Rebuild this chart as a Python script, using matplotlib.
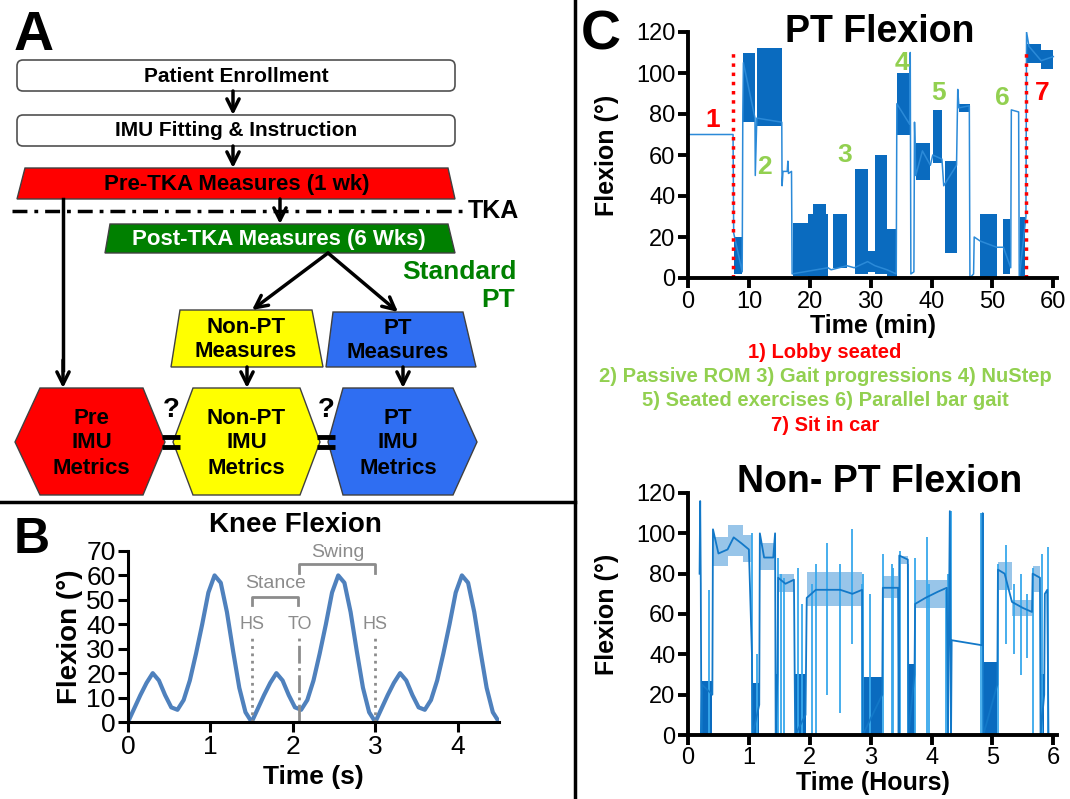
import numpy as np
import matplotlib
matplotlib.use("Agg")
import matplotlib.pyplot as plt
from matplotlib.patches import Polygon, FancyBboxPatch

plt.rcParams['font.family'] = ['Liberation Sans', 'DejaVu Sans']

# ---- Panel B: knee flexion over three gait cycles (deg), sampled every 0.075 s
knee_time = np.arange(0, 4.5001, 0.075)
knee_flex = [0, 5.5, 11, 16, 20, 17, 11, 6, 5, 9, 17, 28, 40, 53, 60, 57, 45, 29, 14, 4,
             0, 5.5, 11, 16, 20, 17, 11, 6, 5, 9, 17, 28, 40, 53, 60, 57, 45, 29, 14, 4,
             0, 5.5, 11, 16, 20, 17, 11, 6, 5, 9, 17, 28, 40, 53, 60, 57, 45, 29, 14, 4, 0]
event_t = [1.5, 2.08, 3.0]
event_lbl = ['HS', 'TO', 'HS']
event_style = [':', '-.', ':']

# ---- Panel C top: PT session flexion (minutes, deg)
pt_trace_t = [0, 7.4, 7.5, 8.9, 9.0, 9.1, 11.0, 11.05, 11.3, 15.4, 15.45, 15.6, 16.3, 16.4, 16.5,
              17.0, 17.1, 23.0, 23.5, 26.1, 27.3, 29.5, 30.7, 32.7, 34.2, 34.3, 36.4, 36.5,
              36.6, 37.1, 37.2, 37.4, 38.5, 39.8, 40.2, 41.7, 42.0, 44.1, 44.3, 44.5, 46.2,
              46.3, 46.9, 47.0, 48.0, 50.7, 51.8, 53.0, 53.1, 54.3, 54.4, 55.5, 55.6, 56.0,
              58.0, 60.0]
pt_trace_y = [70, 70, 22, 3, 80, 105, 78, 50, 78, 76, 45, 52, 52, 57, 51,
              52, 2, 5, 4, 6, 5, 8, 6, 4, 2, 85, 75, 110,
              2, 3, 76, 50, 62, 55, 60, 58, 45, 55, 92, 83, 84,
              0, 2, 20, 18, 15, 15, 5, 82, 81, 0, 30, 120, 113,
              106, 108]
pt_band_start = [7.6, 9.1, 11.3, 17.2, 19.7, 20.6, 23.8, 27.4, 29.5, 30.7, 32.7, 34.3, 37.4,
                 40.2, 42.2, 44.5, 48.0, 51.7, 54.5, 55.7, 58.0]
pt_band_end = [8.9, 11.0, 15.4, 19.7, 23.0, 22.6, 26.1, 29.5, 30.7, 32.7, 34.3, 36.4, 39.7,
               41.7, 44.1, 46.3, 50.7, 52.9, 55.4, 58.0, 60.0]
pt_band_low = [2, 76, 74, 1, 0, 5, 5, 2, 3, 2, 0, 70, 48, 56, 12, 81, 0, 2, 1, 105, 102]
pt_band_high = [20, 110, 112, 27, 31, 36, 31, 53, 13, 60, 24, 100, 66, 82, 57, 85, 31, 29,
                30, 114, 111]
pt_marks = ['1', '2', '3', '4', '5', '6', '7']
pt_mark_t = [4.1, 12.6, 25.8, 35.1, 41.1, 51.7, 58.1]
pt_mark_y = [77, 54, 60, 105, 90, 88, 90]
pt_mark_color = ['red', 'green', 'green', 'green', 'green', 'green', 'red']
pt_car_lines = [7.4, 55.5]

activity_lines = ['1) Lobby seated',
                  '2) Passive ROM 3) Gait progressions 4) NuStep',
                  '5) Seated exercises 6) Parallel bar gait',
                  '7) Sit in car']
activity_colors = ['red', 'green', 'green', 'red']

# ---- Panel C bottom: non-PT flexion (hours, deg)
npt_trace_t = [0.19, 0.20, 0.21, 0.22, 0.23, 0.40, 0.41, 0.50, 0.65, 0.75, 0.88, 1.00, 1.05,
               1.06, 1.17, 1.18, 1.25, 1.40, 1.43, 1.44, 1.47, 1.48, 1.60, 1.74, 1.76, 1.93,
               1.95, 2.10, 2.30, 2.50, 2.70, 2.86, 2.87, 3.19, 3.20, 3.30, 3.45, 3.46, 3.47,
               3.61, 3.62, 3.72, 3.73, 3.90, 4.10, 4.25, 4.27, 4.30, 4.32, 4.33, 4.83, 4.84,
               4.85, 5.08, 5.09, 5.20, 5.32, 5.50, 5.65, 5.66, 5.78, 5.79, 5.85, 5.86, 5.90,
               5.92]
npt_trace_y = [80, 116, 75, 0, 25, 20, 102, 90, 92, 98, 95, 92, 40,
               0, 15, 100, 88, 88, 100, 0, 30, 78, 75, 77, 0, 10,
               68, 72, 72, 72, 70, 72, 0, 20, 73, 73, 73, 0, 89,
               87, 0, 30, 65, 68, 71, 73, 0, 111, 0, 47, 44.5, 110,
               0, 25, 82, 80, 66, 63, 61, 80, 78, 0, 20, 70, 72,
               0]
npt_sit_start = [0.41, 0.65, 0.90, 1.18, 1.48, 1.95, 3.20, 3.48, 3.73, 5.09, 5.32, 5.66]
npt_sit_end = [0.65, 0.90, 1.05, 1.43, 1.74, 2.86, 3.45, 3.61, 4.27, 5.32, 5.65, 5.78]
npt_sit_low = [84, 89, 86, 82, 71, 64, 68, 85, 63, 72, 59, 71]
npt_sit_high = [98, 104, 99, 95, 80, 81, 79, 89, 77, 86, 67, 84]
npt_move_start = [0.23, 1.06, 1.44, 1.76, 2.87, 3.62, 4.85, 5.79]
npt_move_end = [0.40, 1.17, 1.47, 1.93, 3.19, 3.72, 5.08, 5.85]
npt_move_high = [27, 26, 30, 30, 29, 35, 36, 30]
npt_spike_t = [0.34, 1.05, 1.13, 1.48, 1.53, 1.58, 1.80, 1.88, 2.04, 2.11, 2.28, 2.50, 2.69,
               2.86, 2.88, 2.99, 3.20, 3.35, 3.37, 3.48, 3.61, 3.73, 3.92, 3.95, 4.23, 4.27,
               4.32, 4.81, 4.85, 5.09, 5.23, 5.36, 5.47, 5.56, 5.67, 5.81, 5.91]
npt_spike_lo = [0, 0, 0, 0, 0, 0, 0, 0, 0, 0, 20, 11, 45,
                0, 0, 0, 0, 0, 0, 0, 0, 0, 0, 0, 0, 0,
                0, 0, 0, 0, 45, 40, 30, 38, 0, 0, 0]
npt_spike_hi = [72, 100, 40, 88, 80, 78, 83, 65, 75, 85, 95, 85, 102,
                75, 80, 70, 90, 85, 83, 91, 85, 88, 98, 75, 72, 80,
                111, 110, 79, 85, 94, 75, 80, 70, 83, 90, 93]

RED = '#FF0000'
LGREEN = '#92D050'
DGREEN = '#008000'
BLUE_DARK = '#0A6BBF'
BLUE_LINE = '#2B8AD8'
GRAY = '#8C8C8C'
colmap = {'red': RED, 'green': LGREEN}

fig = plt.figure(figsize=(10.7, 7.99), dpi=100)

# ---- overlay in pixel coordinates for the flow chart and dividers
ov = fig.add_axes([0, 0, 1, 1])
ov.set_xlim(0, 1070)
ov.set_ylim(799, 0)
ov.axis('off')

ov.plot([575, 575], [0, 799], color='k', lw=2.5)
ov.plot([0, 575], [502, 502], color='k', lw=2.5)

ov.text(14, 50, 'A', fontsize=40, fontweight='bold', va='baseline')
ov.text(14, 553, 'B', fontsize=36, fontweight='bold', va='baseline')
ov.text(581, 50, 'C', fontsize=40, fontweight='bold', va='baseline')

for y0, label in [(60, 'Patient Enrollment'), (115, 'IMU Fitting & Instruction')]:
    ov.add_patch(FancyBboxPatch((17, y0), 438, 31, boxstyle='round,pad=0,rounding_size=6',
                                fc='white', ec='#505050', lw=1.2))
    ov.text(236, y0 + 16, label, fontsize=15, fontweight='bold', ha='center', va='center')


def arrow(x0, y0, x1, y1):
    ov.annotate('', xy=(x1, y1), xytext=(x0, y0),
                arrowprops=dict(arrowstyle='->', lw=2.5, color='k', mutation_scale=22,
                                shrinkA=0, shrinkB=0))


def trap(top, bottom, ytop, ybot, fc, text, tc='k', fs=15):
    ov.add_patch(Polygon([(top[0], ytop), (top[1], ytop), (bottom[1], ybot), (bottom[0], ybot)],
                         closed=True, fc=fc, ec='#404040', lw=1))
    ov.text((top[0] + top[1]) / 2, (ytop + ybot) / 2 + 1, text, fontsize=fs, fontweight='bold',
            ha='center', va='center', color=tc, linespacing=1.2)


arrow(233, 91, 233, 115)
arrow(233, 146, 233, 168)
trap((25, 448), (17, 455), 168, 199, RED, 'Pre-TKA Measures (1 wk)', fs=16)
ov.plot([12, 465], [211, 211], color='k', lw=2.5, dashes=(4.3, 2.0, 1.1, 2.0))
ov.text(468, 211, 'TKA', fontsize=18, fontweight='bold', va='center')
arrow(280, 199, 280, 224)
trap((110, 448), (105, 455), 224, 253, DGREEN, 'Post-TKA Measures (6 Wks)', tc='white', fs=16)
ov.text(517, 272, 'Standard', fontsize=19, fontweight='bold', color=DGREEN, ha='right', va='center')
ov.text(515, 300, 'PT', fontsize=19, fontweight='bold', color=DGREEN, ha='right', va='center')
arrow(328, 253, 252, 310)
arrow(328, 253, 398, 312)
trap((180, 312), (171, 323), 310, 367, '#FFFF00', 'Non-PT\nMeasures', fs=16)
trap((333, 463), (326, 476), 312, 367, '#2F6EF2', 'PT\nMeasures', fs=16)
ov.plot([63, 63], [199, 370], color='k', lw=2.5)
arrow(63, 360, 63, 388)
arrow(247, 367, 247, 388)
arrow(403, 367, 403, 388)

hexes = [((40, 143), (15, 165), RED, 'Pre\nIMU\nMetrics'),
         ((193, 300), (173, 320), '#FFFF00', 'Non-PT\nIMU\nMetrics'),
         ((343, 453), (328, 477), '#2F6EF2', 'PT\nIMU\nMetrics')]
for (ta, tb), (va_, vb), fc, txt in hexes:
    ov.add_patch(Polygon([(ta, 388), (tb, 388), (vb, 442), (tb, 495), (ta, 495), (va_, 442)],
                         closed=True, fc=fc, ec='#404040', lw=1))
    ov.text((ta + tb) / 2, 443, txt, fontsize=16, fontweight='bold', ha='center', va='center',
            linespacing=1.25)
for xq in [171, 326]:
    ov.text(xq, 410, '?', fontsize=20, fontweight='bold', ha='center', va='center')
    ov.plot([xq - 9, xq + 9], [437, 437], color='k', lw=3.5, solid_capstyle='butt')
    ov.plot([xq - 9, xq + 9], [447, 447], color='k', lw=3.5, solid_capstyle='butt')

for i, (line, c) in enumerate(zip(activity_lines, activity_colors)):
    ov.text(825, 352 + i * 24.5, line, fontsize=14.5, fontweight='bold', color=colmap[c],
            ha='center', va='center')


def style_axes(ax, lw=2.5):
    for s in ['top', 'right']:
        ax.spines[s].set_visible(False)
    for s in ['left', 'bottom']:
        ax.spines[s].set_linewidth(lw)
    ax.tick_params(width=lw, length=7, direction='out')


# ---- Panel B
axb = fig.add_axes([128 / 1070, 1 - 722 / 799, 371 / 1070, 171 / 799])
axb.plot(knee_time, knee_flex, color='#4F81BD', lw=3)
for t, lbl, ls in zip(event_t, event_lbl, event_style):
    axb.plot([t, t], [0, 36], color=GRAY, lw=2, ls=ls)
    axb.text(t, 40, lbl, color=GRAY, fontsize=13, ha='center', va='center')
axb.plot([event_t[0], event_t[0], event_t[1] - 0.02, event_t[1] - 0.02], [48, 51, 51, 48],
         color=GRAY, lw=2)
axb.text((event_t[0] + event_t[1]) / 2, 56.5, 'Stance', color=GRAY, fontsize=14,
         ha='center', va='center')
axb.plot([event_t[1], event_t[1], event_t[2], event_t[2]], [61, 64.5, 64.5, 61], color=GRAY, lw=2)
axb.text((event_t[1] + event_t[2]) / 2, 69.5, 'Swing', color=GRAY, fontsize=14,
         ha='center', va='center')
axb.set_xlim(0, 4.5)
axb.set_ylim(0, 70)
axb.set_xticks([0, 1, 2, 3, 4])
axb.set_yticks(range(0, 71, 10))
axb.tick_params(labelsize=19, pad=2)
style_axes(axb, 2.2)
axb.set_xlabel('Time (s)', fontsize=19, fontweight='bold', labelpad=5)
axb.set_ylabel('Flexion (°)', fontsize=20, fontweight='bold', labelpad=2)
axb.set_title('Knee Flexion', fontsize=20, fontweight='bold', pad=14, x=0.45)

# ---- Panel C top
axc = fig.add_axes([688 / 1070, 1 - 278 / 799, 369 / 1070, 246 / 799])
for t0, t1, lo, hi in zip(pt_band_start, pt_band_end, pt_band_low, pt_band_high):
    axc.fill_between([t0, t1], [lo, lo], [hi, hi], color=BLUE_DARK, lw=0)
axc.plot(pt_trace_t, pt_trace_y, color=BLUE_LINE, lw=1.1)
for t in pt_car_lines:
    axc.plot([t, t], [0, 111], color=RED, lw=2.5, ls=':')
for m, t, y, c in zip(pt_marks, pt_mark_t, pt_mark_y, pt_mark_color):
    axc.text(t, y, m, color=colmap[c], fontsize=19, fontweight='bold', ha='center', va='center')
axc.set_xlim(0, 60.6)
axc.set_ylim(0, 120)
axc.set_xticks(range(0, 61, 10))
axc.set_yticks(range(0, 121, 20))
axc.tick_params(labelsize=17, pad=2)
style_axes(axc, 2.8)
axc.set_xlabel('Time (min)', fontsize=18, fontweight='bold', labelpad=1)
axc.set_ylabel('Flexion (°)', fontsize=18, fontweight='bold', labelpad=12)
axc.text(0.52, 1.0, 'PT Flexion', transform=axc.transAxes, fontsize=27, fontweight='bold',
         ha='center', va='center')

# ---- Panel C bottom
axn = fig.add_axes([688 / 1070, 1 - 735 / 799, 369 / 1070, 242 / 799])
for t0, t1, lo, hi in zip(npt_sit_start, npt_sit_end, npt_sit_low, npt_sit_high):
    axn.fill_between([t0, t1], [lo, lo], [hi, hi], color='#1C7FD0', lw=0, alpha=0.45)
for t0, t1, hi in zip(npt_move_start, npt_move_end, npt_move_high):
    axn.fill_between([t0, t1], [0, 0], [hi, hi], color=BLUE_DARK, lw=0)
axn.vlines(npt_spike_t, npt_spike_lo, npt_spike_hi, color='#38A8EC', lw=1.3)
axn.plot(npt_trace_t, npt_trace_y, color='#1278C8', lw=1.3)
axn.set_xlim(0, 6.06)
axn.set_ylim(0, 120)
axn.set_xticks(range(0, 7))
axn.set_yticks(range(0, 121, 20))
axn.tick_params(labelsize=17, pad=2)
style_axes(axn, 2.8)
axn.set_xlabel('Time (Hours)', fontsize=18, fontweight='bold', labelpad=1)
axn.set_ylabel('Flexion (°)', fontsize=18, fontweight='bold', labelpad=12)
axn.text(0.52, 1.045, 'Non- PT Flexion', transform=axn.transAxes, fontsize=27,
         fontweight='bold', ha='center', va='center')

fig.savefig('out.png', dpi=100)
